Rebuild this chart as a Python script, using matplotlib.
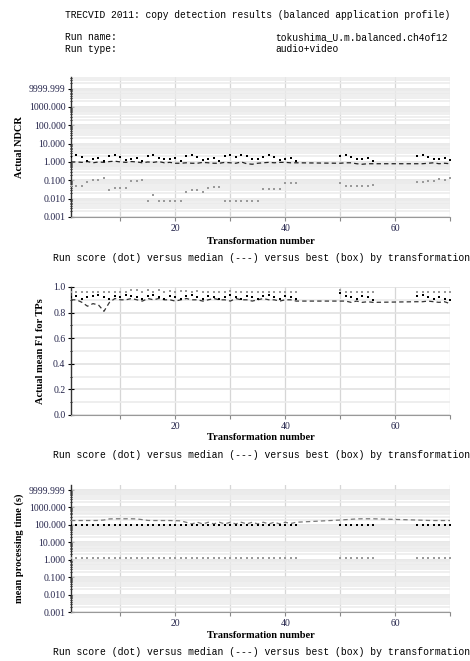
import numpy as np
import matplotlib
matplotlib.use('Agg')
import matplotlib.pyplot as plt
from matplotlib.ticker import FixedLocator, NullFormatter

# Transformation numbers that have results (video x audio combinations)
transforms = [1, 2, 3, 4, 5, 6, 7, 8, 9, 10, 11, 12, 13, 14, 15, 16, 17, 18, 19, 20,
              21, 22, 23, 24, 25, 26, 27, 28, 29, 30, 31, 32, 33, 34, 35, 36, 37, 38, 39, 40,
              41, 42, 50, 51, 52, 53, 54, 55, 56, 64, 65, 66, 67, 68, 69, 70]

# Actual NDCR
ndcr_run = [1.8, 2.3, 1.9, 1.2, 1.5, 1.7, 1.1, 2.0, 2.3, 1.8, 1.3, 1.5, 1.6, 1.2, 2.0, 2.3,
            1.7, 1.4, 1.5, 1.6, 1.1, 2.0, 2.3, 1.8, 1.3, 1.5, 1.7, 1.1, 2.0, 2.3, 1.8,
            2.3, 2.0, 1.4, 1.5, 1.9, 2.3, 1.9, 1.3, 1.5, 1.6, 1.1,
            2.0, 2.3, 1.9, 1.4, 1.5, 1.6, 1.1,
            2.0, 2.3, 1.9, 1.4, 1.4, 1.6, 1.3]
ndcr_median = [1.0, 1.0, 0.95, 1.05, 0.9, 1.0, 0.95, 1.05, 1.1, 1.0, 0.95, 1.05, 1.0, 0.9,
               1.0, 0.95, 1.05, 0.9, 0.95, 0.85, 0.85, 0.9, 0.85, 0.85, 0.95, 0.9, 0.85, 0.85,
               0.95, 0.9, 0.85, 1.0, 0.8, 0.75, 0.85, 0.9, 0.95, 0.9, 0.95, 0.95, 0.9, 0.9,
               0.85, 0.9, 0.9, 0.8, 0.75, 0.8, 0.8,
               0.8, 0.8, 0.85, 0.9, 0.8, 0.85, 0.8]
ndcr_best = [0.05, 0.052, 0.052, 0.08, 0.11, 0.11, 0.13, 0.03, 0.04, 0.04, 0.04, 0.09, 0.09, 0.1,
             0.007, 0.015, 0.007, 0.007, 0.007, 0.007, 0.007, 0.022, 0.03, 0.03, 0.022, 0.04,
             0.045, 0.045, 0.007, 0.007, 0.007, 0.007, 0.007, 0.007, 0.007, 0.034, 0.034, 0.034,
             0.034, 0.07, 0.07, 0.07,
             0.07, 0.05, 0.05, 0.05, 0.05, 0.05, 0.055,
             0.08, 0.08, 0.09, 0.095, 0.12, 0.11, 0.13]

# Actual mean F1 for TPs
f1_run = [0.92, 0.93, 0.91, 0.92, 0.93, 0.94, 0.92, 0.91, 0.93, 0.92, 0.94, 0.93, 0.92, 0.91,
          0.93, 0.94, 0.92, 0.91, 0.93, 0.92, 0.91, 0.93, 0.94, 0.92, 0.91, 0.93, 0.92, 0.91,
          0.92, 0.94, 0.92, 0.91, 0.93, 0.92, 0.91, 0.93, 0.94, 0.92, 0.91, 0.93, 0.92, 0.91,
          0.95, 0.93, 0.92, 0.91, 0.93, 0.92, 0.90,
          0.93, 0.94, 0.92, 0.91, 0.92, 0.91, 0.90]
f1_median = [0.90, 0.90, 0.88, 0.85, 0.87, 0.86, 0.81, 0.88, 0.91, 0.90, 0.90, 0.91, 0.90, 0.89,
             0.91, 0.90, 0.91, 0.90, 0.90, 0.89, 0.90, 0.91, 0.90, 0.90, 0.89, 0.90, 0.91, 0.90,
             0.90, 0.89, 0.91, 0.90, 0.90, 0.89, 0.90, 0.91, 0.90, 0.90, 0.89, 0.90, 0.90, 0.89,
             0.89, 0.89, 0.88, 0.89, 0.88, 0.885, 0.88,
             0.885, 0.885, 0.89, 0.885, 0.88, 0.885, 0.87]
f1_best = [0.96, 0.96, 0.96, 0.96, 0.96, 0.96, 0.96, 0.96, 0.96, 0.96, 0.96, 0.975, 0.975, 0.96,
           0.98, 0.96, 0.975, 0.96, 0.97, 0.96, 0.97, 0.97, 0.96, 0.97, 0.96, 0.96, 0.96, 0.96,
           0.96, 0.97, 0.96, 0.96, 0.96, 0.96, 0.96, 0.96, 0.96, 0.96, 0.96, 0.96, 0.96, 0.96,
           0.98, 0.96, 0.96, 0.96, 0.96, 0.96, 0.96,
           0.96, 0.96, 0.96, 0.96, 0.96, 0.96, 0.96]

# Mean processing time (s)
time_run = [100, 100, 100, 100, 100, 100, 100, 100, 100, 100, 100, 100, 100, 100,
            100, 100, 100, 100, 100, 100, 100, 100, 100, 100, 100, 100, 100, 100,
            100, 100, 100, 100, 100, 100, 100, 100, 100, 100, 100, 100, 100, 100,
            100, 100, 100, 100, 100, 100, 100,
            100, 100, 100, 100, 100, 100, 100]
time_median = [178, 178, 178, 178, 178, 180, 190, 220, 224, 224, 224, 224, 220, 200,
               180, 178, 178, 178, 178, 175, 170, 140, 114, 142, 114, 142, 114, 142,
               114, 142, 114, 142, 114, 142, 114, 142, 114, 142, 114, 142, 120, 142,
               190, 200, 210, 220, 224, 224, 224,
               190, 185, 180, 178, 178, 178, 178]
time_best = [1.2, 1.2, 1.2, 1.2, 1.2, 1.2, 1.2, 1.2, 1.2, 1.2, 1.2, 1.2, 1.2, 1.2,
             1.2, 1.2, 1.2, 1.2, 1.2, 1.2, 1.2, 1.2, 1.2, 1.2, 1.2, 1.2, 1.2, 1.2,
             1.2, 1.2, 1.2, 1.2, 1.2, 1.2, 1.2, 1.2, 1.2, 1.2, 1.2, 1.2, 1.2, 1.2,
             1.2, 1.2, 1.2, 1.2, 1.2, 1.2, 1.2,
             1.2, 1.2, 1.2, 1.2, 1.2, 1.2, 1.2]

log_ticks = [0.001, 0.01, 0.1, 1, 10, 100, 1000, 10000]
log_labels = ['0.001', '0.010', '0.100', '1.000', '10.000', '100.000', '1000.000', '9999.999']
f1_ticks = [0.0, 0.2, 0.4, 0.6, 0.8, 1.0]
x_ticks = [10, 20, 30, 40, 50, 60, 70]
x_labels = ['', '20', '', '40', '', '60', '']

W, H = 470, 661
SERIF = 'Liberation Serif'
MONO = 'Liberation Mono'
TICK_COLOR = '#23234a'
CAPTION = 'Run score (dot) versus median (---) versus best (box) by transformation'


def fx(px):
    return px / W


def fy(px):
    return 1 - px / H


def style_axes(ax, ylabel, label_x, grid_lw):
    ax.set_xlim(1, 70)
    ax.xaxis.set_major_locator(FixedLocator(x_ticks))
    ax.set_xticklabels(x_labels)
    ax.grid(axis='x', color='#d6d6d6', lw=0.9)
    ax.grid(axis='y', which='major', color='#e2e2e2', lw=grid_lw)
    ax.grid(axis='y', which='minor', color='#ebebeb', lw=grid_lw)
    ax.set_axisbelow(True)
    for side in ['top', 'right']:
        ax.spines[side].set_visible(False)
    ax.spines['left'].set_linewidth(1.0)
    ax.spines['left'].set_color('#333333')
    ax.spines['bottom'].set_color('#999999')
    ax.tick_params(axis='x', length=3, color='#888888', labelsize=7, labelcolor=TICK_COLOR, pad=2)
    ax.tick_params(axis='y', which='major', length=4, width=0.8, direction='inout', labelsize=7,
                   labelcolor=TICK_COLOR, pad=2)
    ax.tick_params(axis='y', which='minor', length=2, width=0.6, direction='inout')
    for lab in ax.get_xticklabels() + ax.get_yticklabels():
        lab.set_fontfamily(SERIF)
    ax.set_ylabel(ylabel, fontfamily=SERIF, fontweight='bold', fontsize=7.5)
    ax.yaxis.set_label_coords(label_x, 0.5)


def draw_series(ax, run, median, best, median_color):
    ax.plot(transforms, median, ls=(0, (3.5, 2.5)), color=median_color, lw=0.9, zorder=3)
    ax.plot(transforms, best, ls='none', marker='s', ms=1.6, color='#9a9a9a', mew=0, zorder=4)
    ax.plot(transforms, run, ls='none', marker='s', ms=2.0, color='black', mew=0, zorder=5)


def setup_log(ax, top):
    ax.set_yscale('log')
    ax.set_ylim(0.001, top)
    ax.yaxis.set_major_locator(FixedLocator(log_ticks))
    ax.set_yticklabels(log_labels)
    minors = [m * 10.0 ** e for e in range(-3, 5) for m in range(2, 10)]
    ax.yaxis.set_minor_locator(FixedLocator(minors))
    ax.yaxis.set_minor_formatter(NullFormatter())


fig = plt.figure(figsize=(W / 100, H / 100), dpi=100)

# Header block
fig.text(fx(65), fy(15), 'TRECVID 2011: copy detection results (balanced application profile)',
         fontfamily=MONO, fontsize=6.9, va='center')
fig.text(fx(65), fy(37), 'Run name:', fontfamily=MONO, fontsize=6.9, va='center')
fig.text(fx(65), fy(49), 'Run type:', fontfamily=MONO, fontsize=6.9, va='center')
fig.text(fx(275), fy(37), 'tokushima_U.m.balanced.ch4of12', fontfamily=MONO, fontsize=6.9, va='center')
fig.text(fx(275), fy(49), 'audio+video', fontfamily=MONO, fontsize=6.9, va='center')

left, right = 71, 450
panels = [(77, 217), (287, 415), (485, 612)]
axes = []
for top, bottom in panels:
    ax = fig.add_axes([fx(left), fy(bottom), fx(right - left), (bottom - top) / H])
    axes.append(ax)

# NDCR panel
ax1 = axes[0]
setup_log(ax1, 10 ** 4.63)
draw_series(ax1, ndcr_run, ndcr_median, ndcr_best, '#222222')
style_axes(ax1, 'Actual NDCR', -0.125, 1.1)

# F1 panel
ax2 = axes[1]
ax2.set_ylim(0, 1.0)
ax2.yaxis.set_major_locator(FixedLocator(f1_ticks))
ax2.set_yticklabels(['%.1f' % t for t in f1_ticks])
ax2.yaxis.set_minor_locator(FixedLocator([0.1, 0.3, 0.5, 0.7, 0.9]))
draw_series(ax2, f1_run, f1_median, f1_best, '#333333')
style_axes(ax2, 'Actual mean F1 for TPs', -0.068, 1.2)

# Processing time panel
ax3 = axes[2]
setup_log(ax3, 10 ** 4.29)
draw_series(ax3, time_run, time_median, time_best, '#777777')
style_axes(ax3, 'mean processing time (s)', -0.125, 1.1)

# x labels and captions under each panel
for xl_y, cap_y in [(241, 258), (438, 455), (635, 652)]:
    fig.text(fx(261), fy(xl_y), 'Transformation number', fontfamily=SERIF, fontweight='bold',
             fontsize=7.5, ha='center', va='center')
    fig.text(fx(53), fy(cap_y), CAPTION, fontfamily=MONO, fontsize=7, va='center')

fig.savefig('out.png', dpi=100)
